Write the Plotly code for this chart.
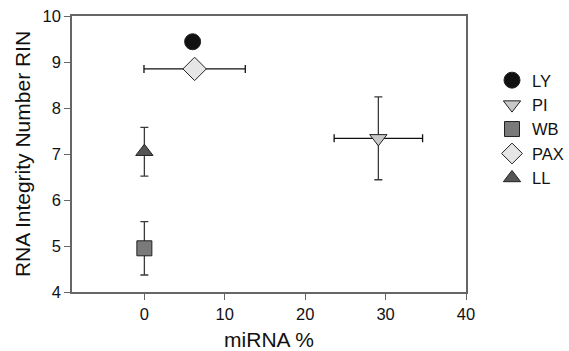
import plotly.graph_objects as go

names = ["LY", "PI", "WB", "PAX", "LL"]
mirna = [6.0, 29.1, 0.0, 6.25, 0.0]
mirna_err = [0.0, 5.5, 0.0, 6.3, 0.0]
rin = [9.44, 7.34, 4.95, 8.85, 7.05]
rin_err = [0.0, 0.9, 0.58, 0.0, 0.53]

symbols = ["circle", "triangle-down", "square", "diamond", "triangle-up"]
colors = ["#111111", "#c8c8c8", "#7a7a7a", "#e6e6e6", "#555555"]
sizes = [16, 15, 15, 18, 15]

fig = go.Figure()
for i, n in enumerate(names):
    fig.add_trace(go.Scatter(
        x=[mirna[i]], y=[rin[i]], name=n, mode="markers",
        marker=dict(symbol=symbols[i], color=colors[i], size=sizes[i],
                    line=dict(color="#222222", width=1)),
        error_x=dict(type="data", array=[mirna_err[i]], visible=mirna_err[i] > 0,
                     color="#111111", thickness=1.3, width=4),
        error_y=dict(type="data", array=[rin_err[i]], visible=rin_err[i] > 0,
                     color="#3a3a3a", thickness=1.3, width=4),
    ))

axis_common = dict(showline=True, linecolor="#666666", linewidth=1.5, mirror=True,
                   ticks="outside", ticklen=6, tickcolor="#666666", tickwidth=1.3,
                   showgrid=False, zeroline=False, automargin=False,
                   tickfont=dict(family="Liberation Sans, Arial", size=16.5, color="#111111"))

fig.update_layout(
    width=569, height=351,
    margin=dict(l=72, r=103, t=16, b=59, autoexpand=False),
    plot_bgcolor="white", paper_bgcolor="white",
    font=dict(family="Liberation Sans, Arial", color="#111111"),
    xaxis=dict(range=[-9, 40], tickvals=[0, 10, 20, 30, 40],
               title=dict(text="miRNA %", font=dict(size=21), standoff=14), **axis_common),
    yaxis=dict(range=[4, 10], tickvals=[4, 5, 6, 7, 8, 9, 10],
               title=dict(text="RNA Integrity Number RIN", font=dict(size=21), standoff=6),
               **axis_common),
    legend=dict(x=1.066, xanchor="left", y=0.83, yanchor="top",
                font=dict(size=16.5), tracegroupgap=0, itemsizing="trace",
                bgcolor="rgba(0,0,0,0)"),
    showlegend=True,
)

fig.write_html("out.html")
